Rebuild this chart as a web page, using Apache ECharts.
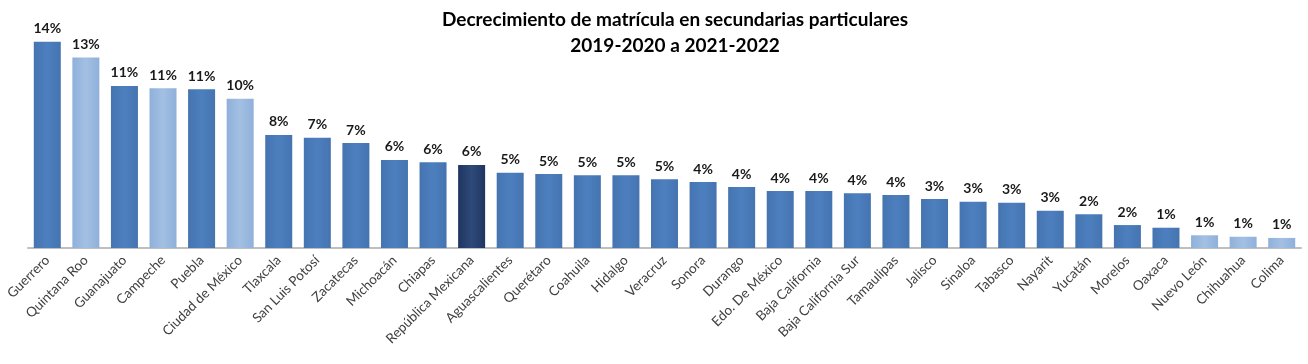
<!DOCTYPE html>
<html>
<head>
<meta charset="utf-8">
<script src="https://cdn.jsdelivr.net/npm/echarts@6/dist/echarts.min.js"></script>
<style>html,body{margin:0;padding:0;background:#fff}#c{width:1308px;height:364px}</style>
</head>
<body>
<div id="c"></div>
<script>
const categories = ["Guerrero","Quintana Roo","Guanajuato","Campeche","Puebla","Ciudad de México","Tlaxcala","San Luis Potosí","Zacatecas","Michoacán","Chiapas","República Mexicana","Aguascalientes","Querétaro","Coahuila","Hidalgo","Veracruz","Sonora","Durango","Edo. De México","Baja California","Baja California Sur","Tamaulipas","Jalisco","Sinaloa","Tabasco","Nayarit","Yucatán","Morelos","Oaxaca","Nuevo León","Chihuahua","Colima"];
const values = [13.94,12.88,10.95,10.79,10.72,10.09,7.64,7.45,7.09,5.95,5.79,5.61,5.09,5.00,4.91,4.91,4.64,4.46,4.12,3.85,3.85,3.70,3.58,3.31,3.13,3.06,2.52,2.28,1.55,1.37,0.86,0.76,0.68];
const colorGroup = ["m","l","m","l","m","l","m","m","m","m","m","d","m","m","m","m","m","m","m","m","m","m","m","m","m","m","m","m","m","m","l","l","l"];

function grad(edge, mid){
  return new echarts.graphic.LinearGradient(0,0,1,0,[
    {offset:0,color:edge},{offset:0.5,color:mid},{offset:1,color:edge}
  ]);
}
const palette = {
  m: grad('#4574b0','#4d7fbf'),
  l: grad('#8fb0da','#a3c0e3'),
  d: grad('#1f3560','#2e4a7a')
};

const chart = echarts.init(document.getElementById('c'));
chart.setOption({
  animation:false,
  title:{
    text:'Decrecimiento de matrícula en secundarias particulares\n2019-2020 a 2021-2022',
    left:670, top:2, textAlign:'center',
    textStyle:{fontFamily:'Lato',fontWeight:'bold',fontSize:19,color:'#000',lineHeight:26}
  },
  grid:{left:28,right:7,top:40.8,bottom:116,containLabel:false},
  xAxis:{
    type:'category',data:categories,
    axisLine:{lineStyle:{color:'#bfbfbf',width:2}},
    axisTick:{show:false},
    axisLabel:{rotate:45,interval:0,fontFamily:'Lato',fontSize:13.5,color:'#404040',margin:10}
  },
  yAxis:{type:'value',min:0,max:14,show:false,splitLine:{show:false}},
  series:[{
    type:'bar',barCategoryGap:'30%',
    data:values.map((v,i)=>({value:v,itemStyle:{color:palette[colorGroup[i]]}})),
    label:{show:true,position:'top',distance:6,fontFamily:'Lato',fontWeight:'bold',fontSize:14,color:'#1a1a1a',
      formatter:p=>Math.round(p.value)+'%'}
  }]
});
</script>
</body>
</html>
